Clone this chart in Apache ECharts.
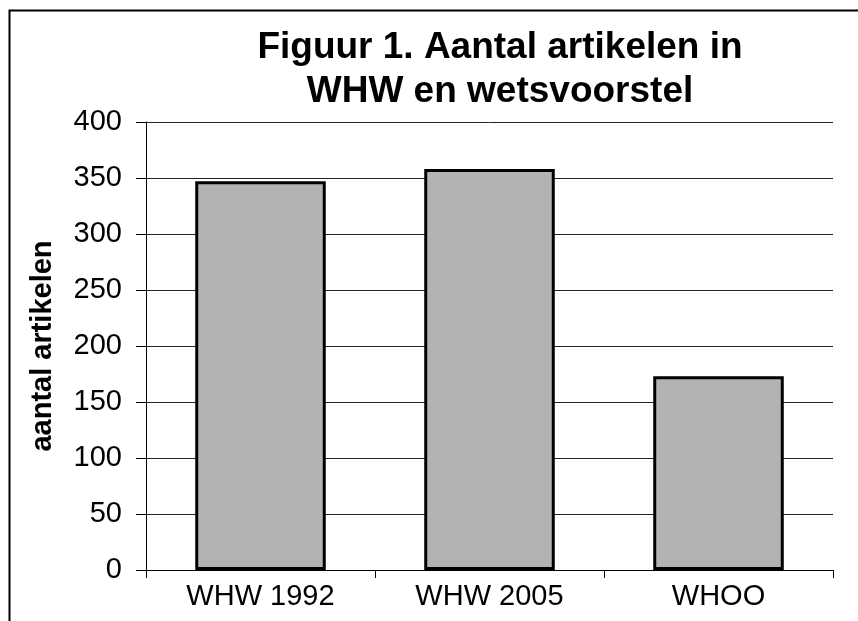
<!DOCTYPE html>
<html>
<head>
<meta charset="utf-8">
<script src="https://cdn.jsdelivr.net/npm/echarts@6/dist/echarts.min.js"></script>
<style>
html,body{margin:0;padding:0;background:#fff;}
#chart{width:858px;height:621px;}
</style>
</head>
<body>
<div id="chart"></div>
<script>
var categories = ['WHW 1992', 'WHW 2005', 'WHOO'];
var values = [347, 358, 173];
var titleText = 'Figuur 1. Aantal artikelen in\nWHW en wetsvoorstel';
var yAxisName = 'aantal artikelen';

var FONT = '"Liberation Sans", Arial, Helvetica, sans-serif';
var chart = echarts.init(document.getElementById('chart'), null, {renderer: 'canvas'});
chart.setOption({
  backgroundColor: '#fff',
  animation: false,
  title: {
    text: titleText,
    left: 495,
    top: 21,
    textAlign: 'center',
    textStyle: {fontFamily: FONT, fontWeight: 'bold', fontSize: 37, lineHeight: 44, color: '#000'}
  },
  graphic: [{
    type: 'rect',
    shape: {x: 9.5, y: 10.5, width: 900, height: 700},
    style: {fill: 'none', stroke: '#000', lineWidth: 2},
    silent: true
  }],
  grid: {left: 146, right: 25, top: 122, bottom: 51, containLabel: false},
  xAxis: {
    type: 'category',
    data: categories,
    axisLine: {lineStyle: {color: '#000', width: 1}},
    axisTick: {show: true, length: 8, inside: false, alignWithLabel: false, lineStyle: {color: '#000'}},
    axisLabel: {fontFamily: FONT, fontSize: 29, color: '#000', margin: 12}
  },
  yAxis: {
    type: 'value',
    min: 0, max: 400, interval: 50,
    name: yAxisName,
    nameLocation: 'middle',
    nameGap: 89,
    nameTextStyle: {fontFamily: FONT, fontWeight: 'bold', fontSize: 29, color: '#000'},
    axisLine: {show: true, lineStyle: {color: '#000', width: 1}},
    axisTick: {show: true, length: 10, lineStyle: {color: '#000'}},
    axisLabel: {fontFamily: FONT, fontSize: 29, color: '#000', margin: 24},
    splitLine: {show: true, lineStyle: {color: '#222', width: 1}}
  },
  series: [{
    type: 'bar',
    data: values,
    barWidth: '57%',
    itemStyle: {color: '#b3b3b3', borderColor: '#000', borderWidth: 3}
  }]
});
</script>
</body>
</html>
